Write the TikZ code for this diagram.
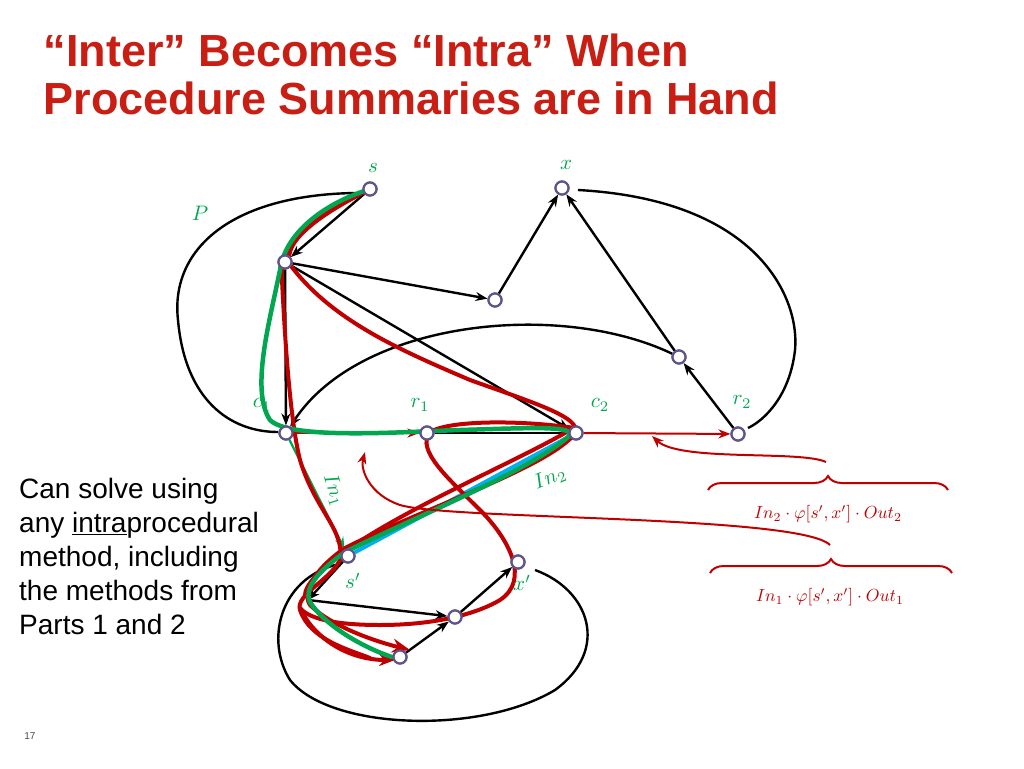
\documentclass[tikz,border=0pt]{standalone}
\usepackage{graphicx}
\usepackage{fontspec}
\setsansfont{Liberation Sans}
\usetikzlibrary{arrows.meta,decorations.pathreplacing}
\definecolor{tred}{RGB}{200,30,20}
\definecolor{dred}{RGB}{192,0,0}
\definecolor{gr}{RGB}{0,166,80}
\definecolor{nd}{RGB}{95,85,140}
\definecolor{cy}{RGB}{0,176,240}
\newcommand\glab[1]{\scalebox{2.1}{$#1$}}
\newcommand\fmlab[1]{\scalebox{1.75}{$#1$}}
\begin{document}
\begin{tikzpicture}[x=1pt,y=-1pt,
  v/.style={circle,draw=nd,fill=white,line width=2.2pt,inner sep=0pt,minimum size=13pt},
  blk/.style={black,line width=2.4pt,-{Stealth[length=12pt,width=9pt]}},
  rp/.style={dred,line width=4pt,line cap=round},
  gp/.style={gr,line width=4.5pt,line cap=round},
  lab/.style={gr,inner sep=1pt},
  fm/.style={dred}]
\useasboundingbox (0,0) rectangle (1024,768);
\node[anchor=west,text=tred,font=\sffamily\bfseries\fontsize{45}{50}\selectfont] at (40,50) {“Inter” Becomes “Intra” When};
\node[anchor=west,text=tred,font=\sffamily\bfseries\fontsize{45}{50}\selectfont] at (40,98) {Procedure Summaries are in Hand};
\node[anchor=north west,align=left,font=\sffamily\fontsize{28}{34}\selectfont,inner sep=0pt] at (19,478) {Can solve using\\any \underline{intra}procedural\\method, including\\the methods from\\Parts 1 and 2};
\node[font=\sffamily\fontsize{10}{10}\selectfont,text=black!70] at (30,736) {17};
% vertices
\node[v] (s) at (370,189) {}; \node[v] (x) at (562,188) {};
\node[v] (a) at (285,262) {}; \node[v] (m) at (495,300) {};
\node[v] (c1) at (286,433) {}; \node[v] (r1) at (427,433) {};
\node[v] (c2) at (576,433) {}; \node[v] (r2) at (738,434) {};
\node[v] (e) at (679,357) {}; \node[v] (sp) at (348,556) {};
\node[v] (xp) at (518,562) {}; \node[v] (b) at (455,617) {};
\node[v] (d) at (400,657) {}; \coordinate (f) at (308,600);
% outer loops
\draw[line width=2.4pt] (355,193) .. controls (230,195) and (170,250) .. (178,320) .. controls (185,400) and (230,432) .. (278,432);
\draw[line width=2.4pt] (578,190) .. controls (760,200) and (800,300) .. (795,350) .. controls (790,395) and (765,420) .. (748,428);
\draw[line width=2.4pt] (335,565) .. controls (280,580) and (265,640) .. (290,680) .. controls (330,730) and (480,735) .. (555,690) .. controls (610,650) and (590,590) .. (535,570);
% black edges
\draw[blk] (s) -- (a);
\draw[blk] (a) -- (m);
\draw[blk] (a) -- (c1);
\draw[blk] (m) -- (x);
\draw[blk] (e) -- (x);
\draw[blk] (r2) -- (e);
\draw[blk] (e) .. controls (560,300) and (360,320) .. (c1);
\draw[blk] (a) -- (c2);
\draw[line width=2.4pt] (r1) -- (c2);
\draw[blk] (sp) -- (f);
\draw[blk] (f) -- (b);
\draw[blk] (b) -- (xp);
\draw[blk] (d) -- (b);
% thin red/green
\draw[dred,line width=2pt,-{Stealth[length=12pt,width=9pt]}] (c1) -- (r1);
\draw[dred,line width=2pt,-{Stealth[length=12pt,width=9pt]}] (c2) -- (r2);
\draw[gr,line width=2.2pt,-{Stealth[length=12pt,width=9pt]}] (c1) -- (sp);
\draw[cy,line width=4pt] (c2) -- (sp);
% thick red paths
\draw[rp] (s.center) .. controls (320,215) and (280,240) .. (282,280) .. controls (285,340) and (290,420) .. (300,460) .. controls (315,510) and (345,530) .. (340,560) .. controls (330,580) and (295,595) .. (300,610) .. controls (310,640) and (350,650) .. (370,658);
\draw[rp,-{Stealth[length=18pt,width=14pt]}] (s.center) .. controls (330,210) and (290,230) .. (288,262) .. controls (330,320) and (400,350) .. (470,380) .. controls (540,405) and (590,420) .. (572,437) .. controls (540,470) and (420,510) .. (345,548) .. controls (320,565) and (300,590) .. (310,605) .. controls (330,625) and (370,640) .. (410,650);
\draw[rp,-{Stealth[length=16pt,width=12pt]}] (300,608) .. controls (315,640) and (350,660) .. (395,660);
\draw[rp] (570,430) .. controls (520,460) and (400,510) .. (340,555) .. controls (320,570) and (305,585) .. (305,595);
\draw[rp] (575,428) .. controls (520,420) and (450,420) .. (430,432) .. controls (415,450) and (450,480) .. (480,510) .. controls (510,540) and (530,580) .. (500,600) .. controls (480,612) and (440,625) .. (380,625) .. controls (340,625) and (310,620) .. (300,608);
% green path
\draw[gp] (s.center) .. controls (320,205) and (285,235) .. (280,270) .. controls (270,320) and (250,390) .. (270,420) .. controls (290,440) and (400,432) .. (460,430) .. controls (530,428) and (580,425) .. (568,437) .. controls (530,470) and (420,515) .. (345,552) .. controls (320,570) and (300,590) .. (312,605) .. controls (330,630) and (370,650) .. (392,657);
% vertices redrawn on top
\foreach \p in {s,x,a,m,c1,r1,c2,r2,e,sp,xp,b,d} \node[v] at (\p.center) {};
% labels
\node[lab] at (373,168) {\glab{s}};
\node[lab] at (566,165) {\glab{x}};
\node[lab] at (200,213) {\glab{P}};
\node[lab] at (262,405) {\glab{c_1}};
\node[lab] at (420,405) {\glab{r_1}};
\node[lab] at (600,405) {\glab{c_2}};
\node[lab] at (742,402) {\glab{r_2}};
\node[lab,rotate=-72] at (334,490) {\glab{In_1}};
\node[lab,rotate=22] at (550,478) {\glab{In_2}};
\node[lab] at (353,581) {\glab{s'}};
\node[lab] at (522,583) {\glab{x'}};
% braces and formulas
\draw[dred,line width=2pt,decorate,decoration={brace,amplitude=14pt}] (708,490) -- (948,490);
\draw[dred,line width=2pt,decorate,decoration={brace,amplitude=14pt}] (710,573) -- (952,573);
\node[fm] at (828,514) {\fmlab{In_2\cdot\varphi[s',x']\cdot Out_2}};
\node[fm] at (830,597) {\fmlab{In_1\cdot\varphi[s',x']\cdot Out_1}};
\draw[dred,line width=2pt,-{Stealth[length=12pt,width=9pt]}] (826,462) .. controls (800,450) and (680,462) .. (652,436);
\draw[dred,line width=2pt,-{Stealth[length=12pt,width=9pt]}] (830,545) .. controls (800,515) and (450,520) .. (400,505) .. controls (370,495) and (360,470) .. (365,452);
\end{tikzpicture}
\end{document}
